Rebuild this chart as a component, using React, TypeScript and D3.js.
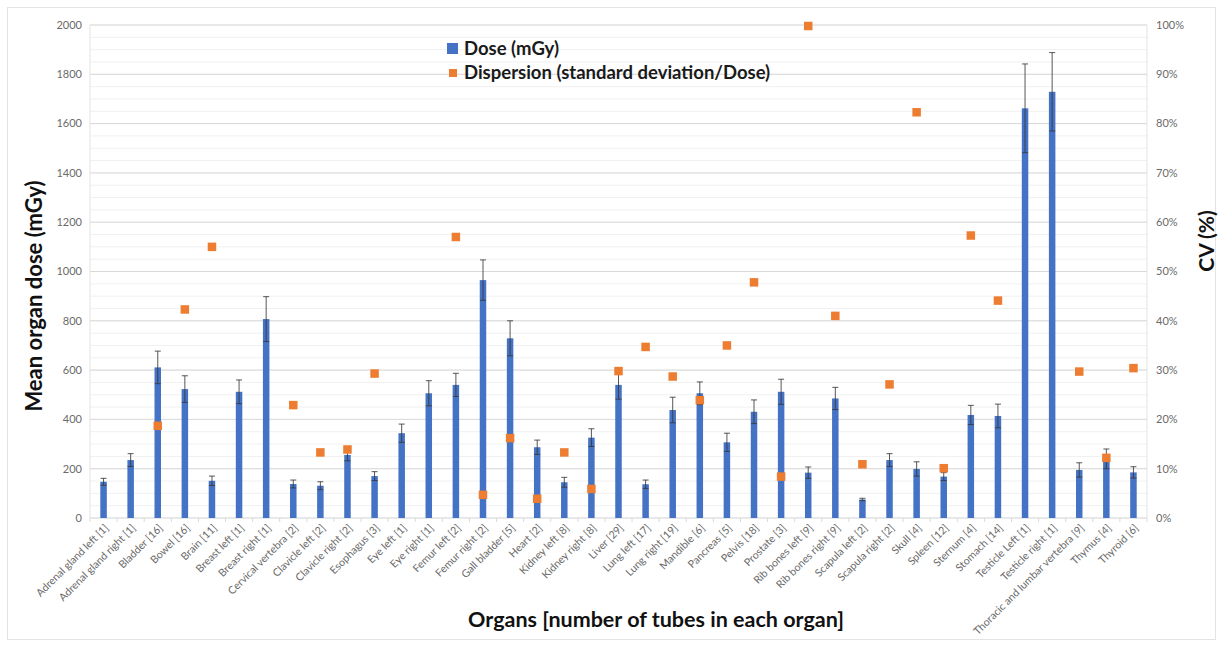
import React from "react";
import * as d3 from "d3";

const organs = [
  "Adrenal gland left [1]", "Adrenal gland right [1]", "Bladder [16]", "Bowel [16]", "Brain [11]",
  "Breast left [1]", "Breast right [1]", "Cervical vertebra [2]", "Clavicle left [2]", "Clavicle right [2]",
  "Esophagus [3]", "Eye left [1]", "Eye right [1]", "Femur left [2]", "Femur right [2]",
  "Gall bladder [5]", "Heart [2]", "Kidney left [8]", "Kidney right [8]", "Liver [29]",
  "Lung left [17]", "Lung right [19]", "Mandible [6]", "Pancreas [5]", "Pelvis [18]",
  "Prostate [3]", "Rib bones left [9]", "Rib bones right [9]", "Scapula left [2]", "Scapula right [2]",
  "Skull [4]", "Spleen [12]", "Sternum [4]", "Stomach [14]", "Testicle Left [1]",
  "Testicle right [1]", "Thoracic and lumbar vertebra [9]", "Thymus [4]", "Thyroid [6]",
];

const dose = [
  147, 235, 611, 523, 151, 512, 807, 138, 131, 256,
  170, 344, 506, 540, 965, 729, 287, 145, 326, 540,
  137, 438, 506, 307, 431, 512, 184, 485, 75, 235,
  199, 168, 418, 414, 1662, 1729, 195, 240, 185,
];

const doseSd = [
  14, 26, 66, 54, 19, 48, 91, 16, 16, 24,
  18, 37, 51, 47, 82, 71, 29, 20, 36, 58,
  17, 52, 46, 37, 48, 51, 23, 45, 5, 26,
  29, 16, 39, 48, 180, 159, 29, 40, 23,
];

const cv: (number | null)[] = [
  null, null, 18.7, 42.3, 55.0, null, null, 22.9, 13.3, 13.9,
  29.3, null, null, 57.0, 4.7, 16.2, 3.9, 13.3, 5.9, 29.8,
  34.7, 28.7, 23.9, 35.0, 47.8, 8.4, 99.8, 41.0, 10.9, 27.1,
  82.3, 10.1, 57.3, 44.1, null, null, 29.7, 12.2, 30.4,
];

const leftTicks = [0, 200, 400, 600, 800, 1000, 1200, 1400, 1600, 1800, 2000];
const rightTicks = [0, 10, 20, 30, 40, 50, 60, 70, 80, 90, 100];
const minorTicks = d3.range(0, 2001, 50);

const W = 1222;
const H = 648;
const M = { left: 90, right: 1147, top: 25, bottom: 518 };
const FONT = "Lato, 'Open Sans', sans-serif";
const BLUE = "#4472C4";
const ORANGE = "#ED7D31";

export default function App() {
  const x = d3.scaleBand<string>().domain(organs).range([M.left, M.right]).padding(0);
  const y = d3.scaleLinear().domain([0, 2000]).range([M.bottom, M.top]);
  const y2 = d3.scaleLinear().domain([0, 100]).range([M.bottom, M.top]);
  const bw = 6.5;
  const ms = 8.5;
  const cap = 3;

  return (
    <svg width={W} height={H} style={{ position: "absolute", left: 0, top: 0, fontFamily: FONT }}>
      <rect x={0} y={0} width={W} height={H} fill="#fff" />
      <rect x={7.5} y={7.5} width={1208} height={632} fill="none" stroke="#e3e3e3" />
      {minorTicks.map((t) => (
        <line key={"m" + t} x1={M.left} x2={M.right} y1={y(t)} y2={y(t)} stroke="#f0f0f0" strokeWidth={1} />
      ))}
      {leftTicks.map((t) => (
        <line key={"g" + t} x1={M.left} x2={M.right} y1={y(t)} y2={y(t)} stroke="#d9d9d9" strokeWidth={1} />
      ))}
      <line x1={M.left} x2={M.left} y1={M.top} y2={M.bottom} stroke="#e3e3e3" />
      <line x1={M.right} x2={M.right} y1={M.top} y2={M.bottom} stroke="#e3e3e3" />
      {organs.map((o, i) => (
        <line key={"xt" + i} x1={x(o)!} x2={x(o)!} y1={M.bottom} y2={M.bottom + 4} stroke="#d9d9d9" />
      ))}
      <line x1={M.right} x2={M.right} y1={M.bottom} y2={M.bottom + 4} stroke="#d9d9d9" />
      {leftTicks.map((t) => (
        <text key={"lt" + t} x={82} y={y(t)} dy="0.35em" textAnchor="end" fontSize={11} fill="#6a6a6a">
          {t}
        </text>
      ))}
      {rightTicks.map((t) => (
        <text key={"rt" + t} x={1156} y={y2(t)} dy="0.35em" textAnchor="start" fontSize={11} fill="#6a6a6a">
          {t + "%"}
        </text>
      ))}
      {organs.map((o, i) => {
        const cx = x(o)! + x.bandwidth() / 2;
        return (
          <rect key={"b" + i} x={cx - bw / 2} y={y(dose[i])} width={bw} height={y(0) - y(dose[i])} fill={BLUE} />
        );
      })}
      {organs.map((o, i) => {
        const cx = x(o)! + x.bandwidth() / 2;
        const hi = y(dose[i] + doseSd[i]);
        const lo = y(dose[i] - doseSd[i]);
        return (
          <g key={"e" + i} stroke="#3a3a3a" strokeWidth={1} strokeOpacity={0.85}>
            <line x1={cx} x2={cx} y1={hi} y2={lo} />
            <line x1={cx - cap} x2={cx + cap} y1={hi} y2={hi} />
            <line x1={cx - cap} x2={cx + cap} y1={lo} y2={lo} />
          </g>
        );
      })}
      {organs.map((o, i) => {
        const v = cv[i];
        if (v === null) return null;
        const cx = x(o)! + x.bandwidth() / 2;
        return <rect key={"c" + i} x={cx - ms / 2} y={y2(v) - ms / 2} width={ms} height={ms} fill={ORANGE} />;
      })}
      {organs.map((o, i) => {
        const cx = x(o)! + x.bandwidth() / 2;
        return (
          <text
            key={"xl" + i}
            transform={`translate(${cx + 3},${M.bottom + 8}) rotate(-45)`}
            textAnchor="end"
            dy="0.35em"
            fontSize={10.6}
            fill="#6a6a6a"
          >
            {o}
          </text>
        );
      })}
      <rect x={447} y={43} width={11} height={11} fill={BLUE} />
      <text x={464} y={55} fontSize={18.5} fontWeight={700} fill="#1a1a1a">Dose (mGy)</text>
      <rect x={449} y={69} width={8} height={8} fill={ORANGE} />
      <text x={464} y={79} fontSize={18.5} fontWeight={700} fill="#1a1a1a">Dispersion (standard deviation/Dose)</text>
      <text transform={`translate(42,296) rotate(-90)`} textAnchor="middle" fontSize={22} fontWeight={700} fill="#111">
        Mean organ dose (mGy)
      </text>
      <text transform={`translate(1214,241) rotate(-90)`} textAnchor="middle" fontSize={21} fontWeight={700} fill="#111">
        CV (%)
      </text>
      <text x={656} y={627} textAnchor="middle" fontSize={21.5} fontWeight={700} fill="#111">
        Organs [number of tubes in each organ]
      </text>
    </svg>
  );
}
